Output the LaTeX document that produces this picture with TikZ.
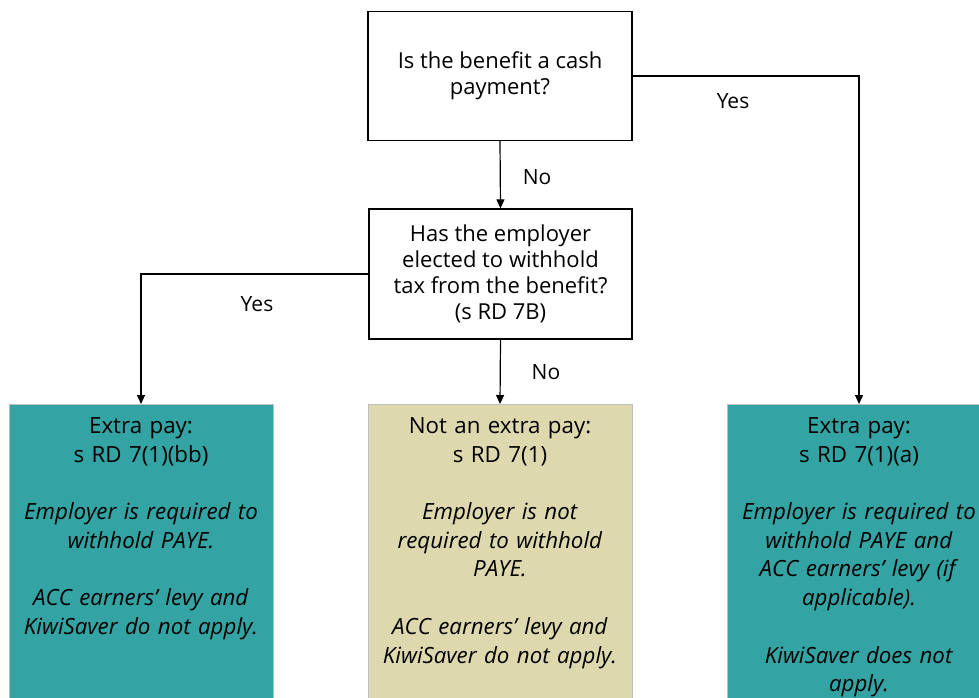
\documentclass[tikz,border=0pt]{standalone}
\usepackage{fontspec}
\setmainfont{Open Sans}
\usetikzlibrary{arrows.meta}
\definecolor{teal1}{RGB}{51,163,163}
\definecolor{tan1}{RGB}{221,216,174}
\begin{document}
\begin{tikzpicture}[x=1pt,y=-1pt,
 q/.style={draw=black, line width=1.3pt, minimum width=264pt, minimum height=129pt, align=center, font=\fontsize{22}{26}\selectfont, inner sep=0pt},
 res/.style={draw=gray!50, line width=0.8pt, minimum width=264pt, minimum height=300pt, anchor=north},
 rtext/.style={anchor=north, align=center, text width=262pt, font=\fontsize{22.3}{28.7}\selectfont},
 arr/.style={line width=1.2pt, -{Triangle[length=9pt,width=8pt]}},
 lbl/.style={font=\fontsize{21}{24}\selectfont}]
\clip (0,0) rectangle (979,697);
\node[q] (q1) at (500,76) {Is the benefit a cash\\payment?};
\node[q, minimum width=263pt, minimum height=130pt] (q2) at (500.5,274) {Has the employer\\elected to withhold\\tax from the benefit?\\(s RD 7B)};
\node[res, fill=teal1] (r1) at (141,404) {};
\node[res, fill=tan1] (r2) at (500,404) {};
\node[res, fill=teal1] (r3) at (859,404) {};
\node[rtext] (t1) at (141,414) {Extra pay:\\s RD 7(1)(bb)\\~\\\textit{Employer is required to}\\\textit{withhold PAYE.}\\~\\\textit{ACC earners’ levy and}\\\textit{KiwiSaver do not apply.}};
\node[rtext] (t2) at (500,414) {Not an extra pay:\\s RD 7(1)\\~\\\textit{Employer is not}\\\textit{required to withhold}\\\textit{PAYE.}\\~\\\textit{ACC earners’ levy and}\\\textit{KiwiSaver do not apply.}};
\node[rtext] (t3) at (859,414) {Extra pay:\\s RD 7(1)(a)\\~\\\textit{Employer is required to}\\\textit{withhold PAYE and}\\\textit{ACC earners’ levy (if}\\\textit{applicable).}\\~\\\textit{KiwiSaver does not}\\\textit{apply.}};
\draw[arr] (q1.south) -- (q2.north);
\draw[arr] (q1.east) -| (r3.north);
\draw[arr] (q2.west) -| (r1.north);
\draw[arr] (q2.south) -- (r2.north);
\node[lbl] (no1) at (537,177) {No};
\node[lbl] (yes1) at (733,101) {Yes};
\node[lbl] (yes2) at (257,304) {Yes};
\node[lbl] (no2) at (546,372) {No};
\end{tikzpicture}
\end{document}
